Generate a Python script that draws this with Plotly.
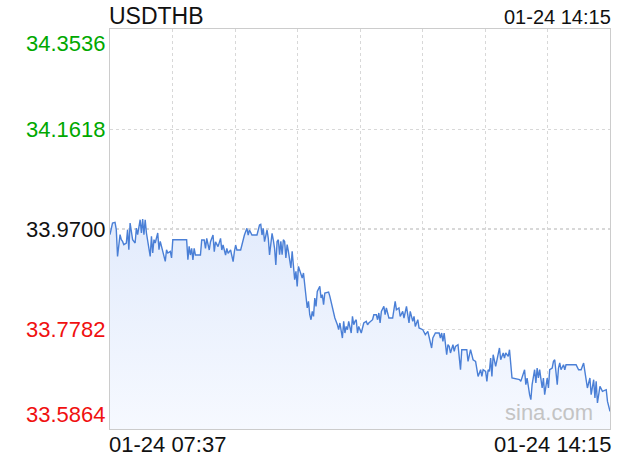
import datetime as dt
import plotly.graph_objects as go

symbol = "USDTHB"
date_label = "01-24"
start_time = "07:37"
end_time = "14:15"

# minutes after 07:37 and quoted price
minutes = [0, 2, 4, 5, 6, 8, 9, 10, 11, 13, 14, 15, 16, 17, 18, 20, 21, 22, 24, 25,
           26, 27, 28, 29, 30, 32, 33, 34, 35, 36, 38, 39, 40, 41, 44, 45, 46, 48, 49, 50,
           61, 62, 63, 64, 65, 66, 67, 68, 72, 73, 75, 76, 77, 79, 80, 82, 83, 84, 86, 88,
           89, 90, 92, 93, 94, 96, 98, 99, 100, 101, 104, 105, 106, 107, 109, 110, 111, 113, 117, 119,
           120, 121, 122, 123, 125, 126, 127, 129, 130, 131, 132, 133, 134, 135, 136, 137, 138, 139, 140, 141,
           142, 144, 145, 146, 147, 148, 149, 150, 151, 153, 154, 155, 157, 158, 159, 160, 161, 162, 163, 164,
           165, 167, 168, 169, 170, 171, 174, 175, 178, 179, 181, 182, 183, 185, 186, 187, 188, 189, 190, 192,
           193, 194, 195, 196, 197, 198, 200, 201, 202, 204, 205, 206, 209, 210, 212, 213, 214, 215, 216, 218,
           219, 220, 221, 222, 225, 227, 228, 230, 231, 233, 234, 236, 237, 238, 239, 241, 242, 243, 245, 246,
           249, 251, 253, 254, 256, 257, 259, 262, 263, 264, 265, 266, 268, 269, 270, 271, 273, 274, 275, 277,
           278, 279, 280, 284, 285, 287, 288, 289, 291, 293, 295, 296, 297, 299, 300, 301, 302, 303, 304, 305,
           307, 310, 311, 313, 314, 315, 317, 318, 320, 326, 327, 330, 331, 332, 334, 335, 336, 338, 339, 340,
           341, 342, 344, 345, 346, 347, 348, 349, 350, 352, 353, 354, 356, 357, 358, 359, 361, 362, 363, 371,
           373, 375, 377, 378, 379, 380, 382, 383, 385, 386, 387, 388, 390, 392, 395, 396, 398]
prices = [33.9591, 33.9815, 33.9827, 33.9687, 33.9174, 33.9591, 33.9495, 33.9462, 33.9399, 33.9431,
          33.9687, 33.9303, 33.9815, 33.9687, 33.9495, 33.9431, 33.9719, 33.9591, 33.9878, 33.9623,
          33.9892, 33.9591, 33.9878, 33.9623, 33.9495, 33.9174, 33.9558, 33.9240, 33.9495, 33.9431,
          33.9623, 33.9303, 33.9462, 33.9366, 33.9079, 33.9303, 33.9240, 33.9270, 33.9144, 33.9495,
          33.9495, 33.9111, 33.9366, 33.9201, 33.9328, 33.9105, 33.9328, 33.9201, 33.9201, 33.9489,
          33.9489, 33.9328, 33.9520, 33.9297, 33.9456, 33.9585, 33.9265, 33.9456, 33.9361, 33.9520,
          33.9297, 33.9393, 33.9201, 33.9328, 33.9232, 33.9297, 33.9073, 33.9265, 33.9393, 33.9297,
          33.9297, 33.9393, 33.9489, 33.9585, 33.9712, 33.9585, 33.9681, 33.9585, 33.9585, 33.9777,
          33.9788, 33.9585, 33.9712, 33.9456, 33.9681, 33.9520, 33.9201, 33.9616, 33.9489, 33.9328,
          33.9010, 33.9462, 33.9495, 33.9207, 33.9462, 33.9207, 33.9495, 33.9462, 33.9144, 33.9399,
          33.9270, 33.8952, 33.9270, 33.9048, 33.8728, 33.8887, 33.8599, 33.8983, 33.8919, 33.8760,
          33.8856, 33.8632, 33.8185, 33.8311, 33.8056, 33.7960, 33.8120, 33.8024, 33.8377, 33.8216,
          33.8503, 33.8599, 33.8377, 33.8440, 33.8248, 33.8473, 33.8492, 33.8407, 33.8120, 33.7993,
          33.7864, 33.7769, 33.7897, 33.7609, 33.7928, 33.7705, 33.7832, 33.7769, 33.7928, 33.7705,
          33.8024, 33.7864, 33.7928, 33.7960, 33.7705, 33.7832, 33.7705, 33.7801, 33.7897, 33.7928,
          33.7864, 33.7897, 33.7960, 33.8056, 33.8056, 33.7960, 33.8089, 33.7897, 33.8120, 33.8216,
          33.8056, 33.8185, 33.8056, 33.7993, 33.7993, 33.8311, 33.8152, 33.8185, 33.8024, 33.8120,
          33.7993, 33.8216, 33.8056, 33.7897, 33.8120, 33.7928, 33.8024, 33.7832, 33.7960, 33.7801,
          33.7769, 33.7673, 33.7736, 33.7609, 33.7418, 33.7609, 33.7705, 33.7705, 33.7609, 33.7705,
          33.7544, 33.7705, 33.7289, 33.7481, 33.7448, 33.7322, 33.7481, 33.7352, 33.7448, 33.7481,
          33.7289, 33.7001, 33.7385, 33.7385, 33.7161, 33.7385, 33.7289, 33.7193, 33.7161, 33.6873,
          33.7001, 33.6873, 33.7001, 33.6969, 33.6777, 33.7001, 33.6969, 33.7226, 33.6873, 33.7289,
          33.7065, 33.7418, 33.7193, 33.7322, 33.7226, 33.7322, 33.7257, 33.7385, 33.6842, 33.6810,
          33.6777, 33.7001, 33.6714, 33.6842, 33.6522, 33.6426, 33.6714, 33.7001, 33.6746, 33.7034,
          33.6842, 33.7001, 33.6650, 33.6842, 33.6522, 33.6714, 33.6842, 33.6650, 33.7001, 33.7034,
          33.7161, 33.7193, 33.6714, 33.7034, 33.7130, 33.7001, 33.7097, 33.7001, 33.7097, 33.7097,
          33.7001, 33.7001, 33.7130, 33.6969, 33.6842, 33.6650, 33.6842, 33.6522, 33.6810, 33.6459,
          33.6777, 33.6363, 33.6681, 33.6585, 33.6618, 33.6393, 33.6202]

prev_close = 33.9700
y_ticks = [34.3536, 34.1618, 33.9700, 33.7782, 33.5864]
y_tick_text = ["34.3536", "34.1618", "33.9700", "33.7782", "33.5864"]

FONT = "Liberation Sans, Arial, sans-serif"
GREEN = "#00a800"
RED = "#f01010"

t0 = dt.datetime(2025, 1, 24, 7, 37)
t_end = dt.datetime(2025, 1, 24, 14, 15)
times = [t0 + dt.timedelta(minutes=m) for m in minutes]

fig = go.Figure()
fig.add_trace(go.Scatter(
    x=times, y=prices, mode="lines",
    line=dict(color="#4a7fd6", width=1.4),
    fill="tozeroy",
    fillgradient=dict(type="vertical", start=y_ticks[-1], stop=prev_close + 0.02,
                      colorscale=[[0, "rgba(246,249,255,1)"], [1, "rgba(226,235,252,1)"]]),
    hoverinfo="skip", showlegend=False,
))

span_ms = (t_end - t0).total_seconds() * 1000
fig.update_xaxes(
    type="date", range=[t0, t_end], tick0=t0, dtick=span_ms / 8,
    showticklabels=False, ticks="",
    showgrid=True, gridcolor="#d8d8d8", griddash="dot", gridwidth=1,
    showline=True, linecolor="#cccccc", linewidth=1, mirror=True, zeroline=False,
)
fig.update_yaxes(
    range=[y_ticks[-1], y_ticks[0]], tickvals=y_ticks,
    showticklabels=False, ticks="",
    showgrid=True, gridcolor="#d8d8d8", griddash="dot", gridwidth=1,
    showline=True, linecolor="#cccccc", linewidth=1, mirror=True, zeroline=False,
)

# previous close reference line (darker dotted)
fig.add_shape(type="line", xref="paper", x0=0, x1=1, yref="y", y0=prev_close, y1=prev_close,
              line=dict(color="#b0b0b0", width=1, dash="dot"), layer="below")

anns = []
for v, txt in zip(y_ticks, y_tick_text):
    if v > prev_close + 1e-9:
        c = GREEN
    elif v < prev_close - 1e-9:
        c = RED
    else:
        c = "#111111"
    if v == y_ticks[0]:
        ya = "top"
    elif v == y_ticks[-1]:
        ya = "bottom"
    else:
        ya = "middle"
    anns.append(dict(x=0, xref="paper", xanchor="right", xshift=-2, y=v, yref="y",
                     yanchor=ya, text=txt, showarrow=False,
                     font=dict(family=FONT, size=22, color=c)))

anns += [
    dict(x=0, xref="paper", xanchor="left", xshift=-3, y=1, yref="paper", yanchor="bottom",
         yshift=-2, text=symbol, showarrow=False, font=dict(family=FONT, size=23, color="#111111")),
    dict(x=1, xref="paper", xanchor="right", xshift=3, y=1, yref="paper", yanchor="bottom",
         yshift=-1, text=f"{date_label} {end_time}", showarrow=False,
         font=dict(family=FONT, size=20, color="#111111")),
    dict(x=0, xref="paper", xanchor="left", xshift=-3, y=0, yref="paper", yanchor="top",
         yshift=-1, text=f"{date_label} {start_time}", showarrow=False,
         font=dict(family=FONT, size=22, color="#111111")),
    dict(x=1, xref="paper", xanchor="right", xshift=3, y=0, yref="paper", yanchor="top",
         yshift=-1, text=f"{date_label} {end_time}", showarrow=False,
         font=dict(family=FONT, size=22, color="#111111")),
    dict(x=0.97, xref="paper", xanchor="right", y=0.0, yref="paper", yanchor="bottom",
         yshift=2, text="sina.com", showarrow=False,
         font=dict(family=FONT, size=22, color="#c4c4c4")),
]

fig.update_layout(
    width=620, height=460,
    margin=dict(l=110, r=10, t=29, b=31),
    paper_bgcolor="white", plot_bgcolor="white",
    annotations=anns,
)

# remove the page's default 8px body margin so the figure fills the window
fig.write_html("out.html",
               config={"displayModeBar": False, "staticPlot": True},
               post_script="document.body.style.margin='0';document.body.style.overflow='hidden';")
